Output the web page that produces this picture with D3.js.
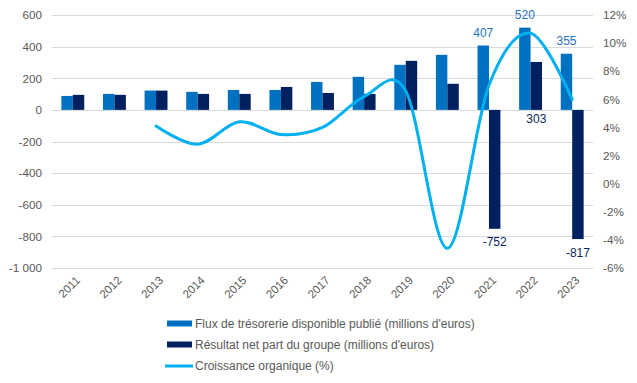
<!DOCTYPE html>
<html>
<head>
<meta charset="utf-8">
<script src="https://cdn.jsdelivr.net/npm/d3@7"></script>
<style>
  html, body { margin: 0; padding: 0; background: #fff; }
  svg { display: block; font-family: "Liberation Sans", Arial, sans-serif; }
</style>
</head>
<body>
<svg id="chart" width="637" height="383"></svg>
<script>
const years = ["2011","2012","2013","2014","2015","2016","2017","2018","2019","2020","2021","2022","2023"];
const fluxTresorerie = [88, 101, 122, 114, 126, 126, 177, 209, 285, 348, 407, 520, 355];
const resultatNet = [95, 95, 122, 101, 101, 145, 107, 101, 310, 165, -752, 303, -817];
const croissanceOrganique = [null, null, 4.1, 2.8, 4.4, 3.5, 4.0, 6.2, 6.6, -4.6, 7.0, 10.7, 6.0];
const leftTicks = [-1000, -800, -600, -400, -200, 0, 200, 400, 600];
const rightTicks = [-6, -4, -2, 0, 2, 4, 6, 8, 10, 12];
const labeledFlux = ["2021", "2022", "2023"];
const labeledNet = ["2021", "2022", "2023"];
const seriesNames = [
  "Flux de trésorerie disponible publié (millions d'euros)",
  "Résultat net part du groupe (millions d'euros)",
  "Croissance organique (%)"
];

const C_LIGHT = "#0070C0", C_DARK = "#002060", C_LINE = "#00B0F0";
const TXT = "#595959", GRID = "#D9D9D9";

const svg = d3.select("#chart");
const plot = { left: 52, right: 593, top: 15, bottom: 268 };

const x = d3.scaleBand().domain(years).range([plot.left, plot.right]).paddingInner(0.45).paddingOuter(0.225);
const xs = d3.scaleBand().domain(["flux", "net"]).range([0, x.bandwidth()]);
const yL = d3.scaleLinear().domain([-1000, 600]).range([plot.bottom, plot.top]);
const yR = d3.scaleLinear().domain([-6, 12]).range([plot.bottom, plot.top]);
const cx = d => x(d) + x.bandwidth() / 2;

const fmtL = v => d3.format(",")(v).replace(/,/g, " ").replace("−", "-");

// gridlines
svg.append("g").selectAll("line").data(leftTicks).join("line")
  .attr("x1", plot.left).attr("x2", plot.right)
  .attr("y1", d => Math.round(yL(d)) + 0.5).attr("y2", d => Math.round(yL(d)) + 0.5)
  .attr("stroke", GRID).attr("stroke-width", 1);

// left axis
const axL = d3.axisLeft(yL).tickValues(leftTicks).tickSize(0).tickPadding(10).tickFormat(fmtL);
const gL = svg.append("g").attr("transform", `translate(${plot.left},0)`).call(axL);
gL.select(".domain").remove();
gL.selectAll("text").attr("fill", TXT).attr("font-size", 11.7).attr("font-family", "Liberation Sans, Arial, sans-serif");

// right axis
const axR = d3.axisRight(yR).tickValues(rightTicks).tickSize(0).tickPadding(10).tickFormat(d => d + "%");
const gR = svg.append("g").attr("transform", `translate(${plot.right},0)`).call(axR);
gR.select(".domain").remove();
gR.selectAll("text").attr("fill", TXT).attr("font-size", 11.7).attr("font-family", "Liberation Sans, Arial, sans-serif");

// bars
const barData = years.map((y, i) => ({ year: y, flux: fluxTresorerie[i], net: resultatNet[i] }));
const gBars = svg.append("g");
gBars.selectAll("rect.flux").data(barData).join("rect").attr("class", "flux")
  .attr("x", d => x(d.year) + xs("flux"))
  .attr("width", xs.bandwidth())
  .attr("y", d => yL(Math.max(0, d.flux)))
  .attr("height", d => Math.abs(yL(d.flux) - yL(0)))
  .attr("fill", C_LIGHT);
gBars.selectAll("rect.net").data(barData).join("rect").attr("class", "net")
  .attr("x", d => x(d.year) + xs("net"))
  .attr("width", xs.bandwidth())
  .attr("y", d => yL(Math.max(0, d.net)))
  .attr("height", d => Math.abs(yL(d.net) - yL(0)))
  .attr("fill", C_DARK);

// line
const lineData = years.map((y, i) => ({ year: y, v: croissanceOrganique[i] })).filter(d => d.v !== null);
const line = d3.line().x(d => cx(d.year)).y(d => yR(d.v)).curve(d3.curveCardinal.tension(0));
svg.append("path").datum(lineData).attr("d", line)
  .attr("fill", "none").attr("stroke", C_LINE).attr("stroke-width", 3)
  .attr("stroke-linecap", "round").attr("stroke-linejoin", "round");

// data labels
const gLab = svg.append("g").attr("font-size", 12).attr("text-anchor", "middle");
gLab.selectAll("text.fl").data(barData.filter(d => labeledFlux.includes(d.year))).join("text")
  .attr("x", d => x(d.year) + xs("flux") + xs.bandwidth() / 2)
  .attr("y", d => yL(d.flux) - 8.5)
  .attr("fill", "#1F72C4")
  .text(d => d.flux);
gLab.selectAll("text.nl").data(barData.filter(d => labeledNet.includes(d.year))).join("text")
  .attr("x", d => x(d.year) + xs("net") + xs.bandwidth() / 2)
  .attr("y", d => d.net >= 0 ? yL(0) + 13 : yL(d.net) + 17.5)
  .attr("fill", "#0A1F5C")
  .text(d => d.net);

// x labels
svg.append("g").selectAll("text").data(years).join("text")
  .attr("transform", d => `translate(${cx(d) + 8},${281}) rotate(-45)`)
  .attr("text-anchor", "end")
  .attr("font-size", 11.5)
  .attr("fill", TXT)
  .text(d => d);

// legend
const legendRows = [323.5, 344.5, 366];
const gLeg = svg.append("g");
seriesNames.forEach((name, i) => {
  const yy = legendRows[i];
  if (i < 2) {
    gLeg.append("rect").attr("x", 167).attr("y", yy - 3).attr("width", 25).attr("height", 6)
      .attr("fill", i === 0 ? C_LIGHT : C_DARK);
  } else {
    gLeg.append("line").attr("x1", 165).attr("x2", 193).attr("y1", yy).attr("y2", yy)
      .attr("stroke", C_LINE).attr("stroke-width", 3);
  }
  gLeg.append("text").attr("x", 195).attr("y", yy).attr("dy", "0.35em")
    .attr("font-size", 12).attr("fill", TXT).text(name);
});
</script>
</body>
</html>
